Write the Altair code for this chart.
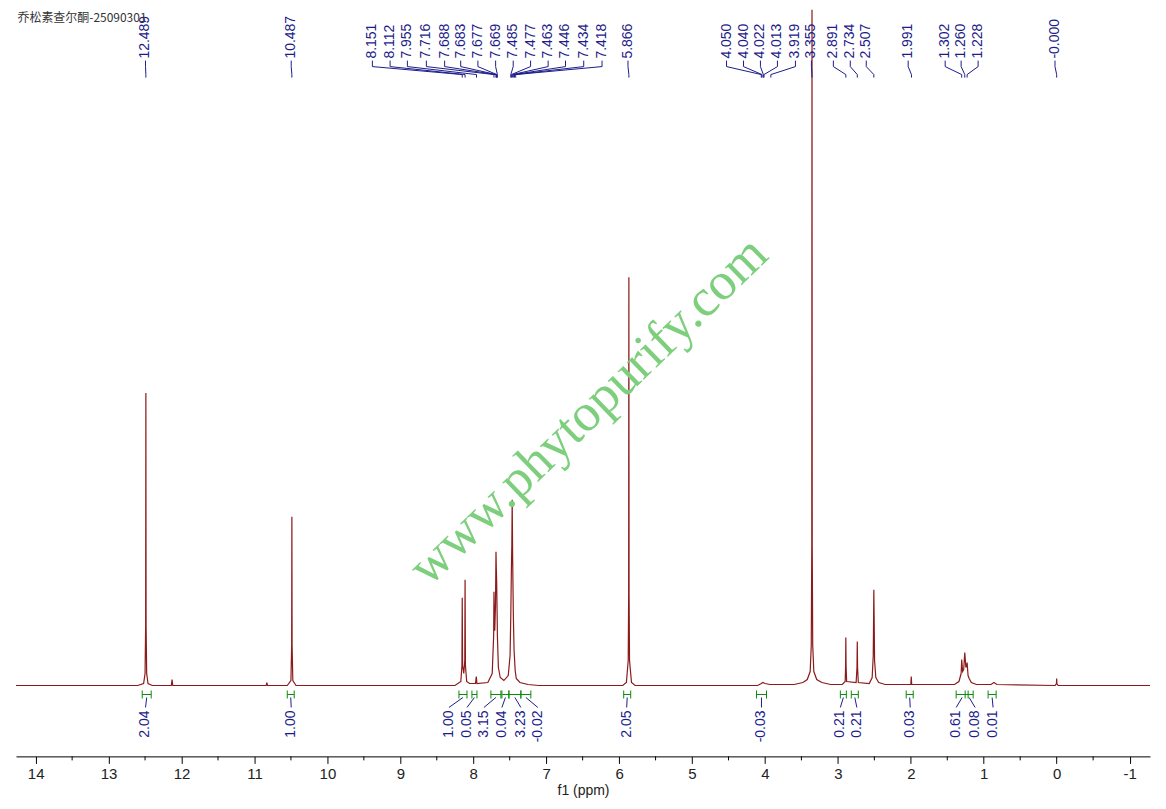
import altair as alt
import pandas as pd

TITLE = "乔松素查尔酮-25090301"
WATERMARK = "www.phytopurify.com"

# spectrum vertices (ppm, intensity above baseline)
SPEC_PPM = [
    14.27, 12.60, 12.52, 12.50, 12.492, 12.489, 12.486, 12.478, 12.46, 12.40,
    12.14, 12.13, 12.12, 10.84, 10.83, 10.82,
    10.55, 10.50, 10.490, 10.487, 10.484, 10.474, 10.43,
    8.25, 8.17, 8.155, 8.151, 8.146, 8.13, 8.116, 8.112, 8.107, 8.09, 8.05,
    7.97, 7.958, 7.95,
    7.80, 7.74, 7.72, 7.716, 7.705, 7.695, 7.688, 7.684, 7.679, 7.672, 7.669, 7.655, 7.63, 7.58,
    7.52, 7.495, 7.485, 7.477, 7.471, 7.466, 7.460, 7.450, 7.440, 7.425, 7.41, 7.36, 7.25, 7.10,
    5.95, 5.90, 5.875, 5.869, 5.866, 5.863, 5.857, 5.83, 5.78,
    4.10, 4.05, 4.03, 4.00, 3.93,
    3.60, 3.48, 3.42, 3.38, 3.365, 3.358, 3.355, 3.352, 3.345, 3.33, 3.29, 3.22, 3.10,
    2.94, 2.90, 2.894, 2.891, 2.888, 2.88,
    2.75, 2.738, 2.734, 2.730, 2.72,
    2.57, 2.53, 2.515, 2.510, 2.507, 2.503, 2.497, 2.48, 2.44, 2.35,
    2.00, 1.994, 1.988,
    1.40, 1.34, 1.31, 1.302, 1.29, 1.275, 1.260, 1.245, 1.235, 1.228, 1.215, 1.20, 1.17, 1.10,
    0.90, 0.86, 0.82,
    0.02, 0.003, 0.000, -0.003, -0.02, -1.28,
]
SPEC_INT = [
    0, 0, 2, 12, 60, 293, 60, 12, 2, 0,
    0, 6, 0, 0, 3, 0,
    0, 5, 40, 169, 40, 5, 0,
    0, 4, 20, 88, 20, 12, 25, 106, 20, 4, 2,
    2, 9, 2,
    3, 12, 50, 94, 55, 80, 134, 118, 105, 70, 50, 18, 8, 5,
    10, 30, 70, 116, 140, 186, 130, 70, 35, 15, 7, 3, 1, 0,
    0, 3, 25, 90, 409, 90, 25, 3, 0,
    0, 2, 3, 2, 1,
    1, 3, 6, 14, 40, 140, 677, 140, 40, 14, 6, 3, 1,
    1, 4, 20, 48, 20, 4,
    3, 18, 44, 18, 3,
    2, 8, 30, 70, 96, 70, 25, 8, 3, 1,
    1, 9, 1,
    1, 4, 12, 26, 14, 16, 33, 18, 20, 23, 10, 7, 3, 1,
    1, 3, 1,
    0, 2, 7, 2, 0, 0,
]

# peak picking: shift, printed text, where the text sits (ppm)
PEAK_VALUES = [12.489, 10.487, 8.151, 8.112, 7.955, 7.716, 7.688, 7.683, 7.677, 7.669,
               7.485, 7.477, 7.463, 7.446, 7.434, 7.418, 5.866, 4.050, 4.040, 4.022,
               4.013, 3.919, 3.355, 2.891, 2.734, 2.507, 1.991, 1.302, 1.260, 1.228, 0.0]
PEAK_TEXT = ["12.489", "10.487", "8.151", "8.112", "7.955", "7.716", "7.688", "7.683",
             "7.677", "7.669", "7.485", "7.477", "7.463", "7.446", "7.434", "7.418",
             "5.866", "4.050", "4.040", "4.022", "4.013", "3.919", "3.355", "2.891",
             "2.734", "2.507", "1.991", "1.302", "1.260", "1.228", "-0.000"]
PEAK_LABEL_AT = [12.494, 10.496, 9.383, 9.140, 8.903, 8.643, 8.392, 8.172, 7.936, 7.693,
                 7.452, 7.214, 6.973, 6.735, 6.485, 6.234, 5.878, 4.527, 4.294, 4.062,
                 3.829, 3.582, 3.363, 3.062, 2.830, 2.611, 2.036, 1.529, 1.310, 1.077, 0.023]

# integrals: range (ppm), printed value, where the value sits (ppm)
INT_FROM = [12.539, 10.550, 8.196, 8.018, 7.758, 7.607, 7.511, 7.347, 5.937, 4.116,
            2.966, 2.816, 2.063, 1.378, 1.255, 0.940]
INT_TO = [12.416, 10.455, 8.086, 7.949, 7.621, 7.511, 7.347, 7.210, 5.841, 3.979,
          2.884, 2.720, 1.967, 1.214, 1.145, 0.830]
INT_TEXT = ["2.04", "1.00", "1.00", "0.05", "3.15", "0.04", "3.23", "-0.02", "2.05",
            "-0.03", "0.21", "0.21", "0.03", "0.61", "0.08", "0.01"]
INT_LABEL_AT = [12.494, 10.496, 8.333, 8.086, 7.854, 7.607, 7.347, 7.114, 5.896,
                4.048, 2.966, 2.740, 2.008, 1.378, 1.118, 0.872]

MAJOR_TICKS = [14, 13, 12, 11, 10, 9, 8, 7, 6, 5, 4, 3, 2, 1, 0, -1]
MINOR_TICKS = [13.5, 12.5, 11.5, 10.5, 9.5, 8.5, 7.5, 6.5, 5.5, 4.5, 3.5, 2.5, 1.5, 0.5, -0.5]

RED = "#8b1a1a"
NAVY = "#1c1c8a"
GREEN = "#0a8a0a"
FONT = "Liberation Sans"

X_SCALE = alt.Scale(domain=[14.27, -1.28], nice=False, zero=False)
Y_SCALE = alt.Scale(domain=[-71, 678], nice=False, zero=False)

spec = pd.DataFrame({"ppm": SPEC_PPM, "intensity": SPEC_INT})
spec["i"] = range(len(spec))

peaks = pd.DataFrame({"peak": PEAK_VALUES, "at": PEAK_LABEL_AT, "text": PEAK_TEXT})
ints = pd.DataFrame({"lo": INT_FROM, "hi": INT_TO, "at": INT_LABEL_AT, "text": INT_TEXT})
ints["mid"] = (ints["lo"] + ints["hi"]) / 2
minor = pd.DataFrame({"v": MINOR_TICKS})


# the axis is set once, on the spectrum layer; the other layers only share the scale
def xq(field):
    return alt.X(field, type="quantitative", scale=X_SCALE)


def yd(value):
    return alt.YDatum(value, axis=None)


def y2d(value):
    return alt.Y2Datum(value)


line = alt.Chart(spec).mark_line(color=RED, strokeWidth=1.2).encode(
    x=alt.X(
        "ppm:Q",
        scale=X_SCALE,
        title="f1 (ppm)",
        axis=alt.Axis(
            values=MAJOR_TICKS,
            labelExpr="'' + datum.value",
            tickSize=7,
            grid=False,
            domainColor="#000",
            tickColor="#000",
            labelColor="#222",
            labelFont=FONT,
            labelFontSize=15,
            labelPadding=3,
            titleFont=FONT,
            titleFontSize=14,
            titleFontWeight="normal",
            titleColor="#222",
            titlePadding=2,
        ),
    ),
    y=alt.Y("intensity:Q", scale=Y_SCALE, axis=None),
    order="i:Q",
)

minor_ticks = alt.Chart(minor).mark_rule(color="#000").encode(
    x=xq("v"), y=yd(-71), y2=y2d(-75)
)

# peak labels and their leader lines
pk = alt.Chart(peaks)
pk_foot = pk.mark_rule(color=NAVY).encode(x=xq("at"), y=yd(626), y2=y2d(620))
pk_diag = pk.mark_rule(color=NAVY).encode(x=xq("at"), x2="peak", y=yd(620), y2=y2d(612))
pk_stem = pk.mark_rule(color=NAVY).encode(x=xq("peak"), y=yd(612), y2=y2d(609))
pk_text = pk.mark_text(
    angle=270, align="left", baseline="middle", font=FONT, fontSize=14, color=NAVY
).encode(x=xq("at"), y=yd(628), text="text:N")

# integral brackets and values
it = alt.Chart(ints)
it_bar = it.mark_rule(color=GREEN).encode(x=xq("lo"), x2="hi", y=yd(-9))
it_lo = it.mark_rule(color=GREEN).encode(x=xq("lo"), y=yd(-5), y2=y2d(-13))
it_hi = it.mark_rule(color=GREEN).encode(x=xq("hi"), y=yd(-5), y2=y2d(-13))
it_lead = it.mark_rule(color=NAVY).encode(x=xq("mid"), x2="at", y=yd(-12), y2=y2d(-22))
it_text = it.mark_text(
    angle=270, align="right", baseline="middle", font=FONT, fontSize=14, color=NAVY
).encode(x=xq("at"), y=yd(-25), text="text:N")

title = alt.Chart(pd.DataFrame({"t": [TITLE]})).mark_text(
    align="left", baseline="middle", font="Noto Sans CJK SC", fontSize=12, color="#333"
).encode(x=alt.XDatum(14.25), y=yd(669), text="t:N")

mark = alt.Chart(pd.DataFrame({"t": [WATERMARK]})).mark_text(
    align="center", baseline="middle", font="Liberation Serif", fontSize=53,
    angle=316, color="#7dcf7d"
).encode(x=alt.XDatum(6.42), y=yd(275), text="t:N")

chart = (
    alt.layer(
        line, minor_ticks, pk_foot, pk_diag, pk_stem, pk_text,
        it_bar, it_lo, it_hi, it_lead, it_text, title, mark,
    )
    .properties(
        width=1136,
        height=749,
        autosize="none",
        padding={"left": 8, "top": 0, "right": 8, "bottom": 45},
        background="white",
    )
    .configure_view(stroke=None)
)

chart.save("out.html", embed_options={"renderer": "svg", "actions": False})
